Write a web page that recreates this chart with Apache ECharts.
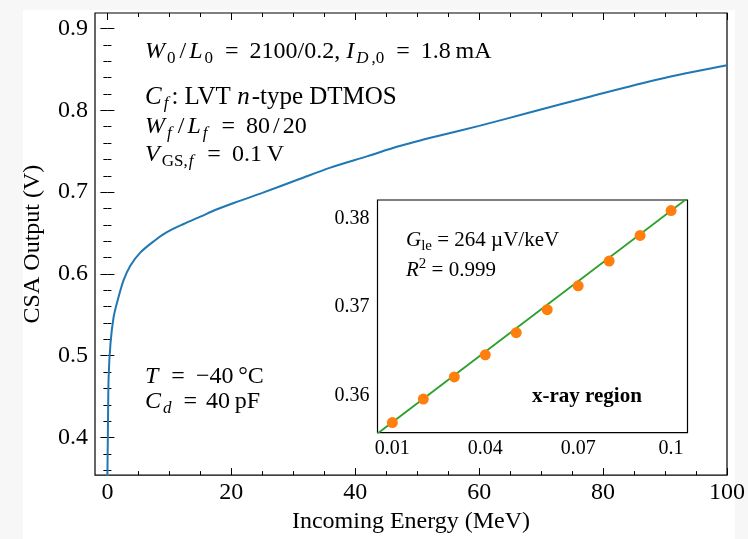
<!DOCTYPE html>
<html>
<head>
<meta charset="utf-8">
<script src="https://cdn.jsdelivr.net/npm/echarts@6/dist/echarts.min.js"></script>
<style>
html,body{margin:0;padding:0;background:#f7f7f7;}
#c{width:748px;height:539px;}
</style>
</head>
<body>
<div id="c"></div>
<script>
// ---- Main curve: CSA output vs incoming energy ----
const energyMeV = [0, 0.1, 0.2, 0.5, 1.0, 1.6, 2.6, 3.7, 5.3, 7.5, 9.6, 12.3, 15.0, 17.7, 20.5, 25, 31, 36, 42, 47, 53, 60, 68, 78, 89, 100];
const csaOutputV = [0.35, 0.42, 0.474, 0.515, 0.547, 0.566, 0.592, 0.610, 0.626, 0.640, 0.651, 0.661, 0.670, 0.679, 0.687, 0.699, 0.716, 0.730, 0.744, 0.756, 0.768, 0.781, 0.797, 0.817, 0.838, 0.855];

// ---- Inset: x-ray region points and linear fit ----
const xrayEnergyMeV = [0.01, 0.02, 0.03, 0.04, 0.05, 0.06, 0.07, 0.08, 0.09, 0.1];
const xrayOutputV = [0.35695, 0.3596, 0.3621, 0.3646, 0.3671, 0.3697, 0.3724, 0.3752, 0.3781, 0.3809];
const fitEnergyMeV = [0.0052, 0.1053];
const fitOutputV = [0.3557, 0.3823];

// ---- Tick values ----
const mainXTicks = [0, 20, 40, 60, 80, 100];
const mainXMinor = [5, 10, 15, 25, 30, 35, 45, 50, 55, 65, 70, 75, 85, 90, 95];
const mainYTicks = [0.4, 0.5, 0.6, 0.7, 0.8, 0.9];
const mainYMinor = [0.36, 0.38, 0.42, 0.44, 0.46, 0.48, 0.52, 0.54, 0.56, 0.58, 0.62, 0.64, 0.66, 0.68, 0.72, 0.74, 0.76, 0.78, 0.82, 0.84, 0.86, 0.88];
const insetXTicks = [0.01, 0.04, 0.07, 0.1];
const insetXMinor = [0.0175, 0.025, 0.0325, 0.0475, 0.055, 0.0625, 0.0775, 0.085, 0.0925];
const insetYTicks = [0.36, 0.37, 0.38];
const insetYMinor = [0.358, 0.362, 0.364, 0.366, 0.368, 0.372, 0.374, 0.376, 0.378];

const FONT = 'Liberation Serif';
const chart = echarts.init(document.getElementById('c'), null, {renderer: 'canvas'});

function tickAxis(grid, pos, min, max, vals, len, opts) {
  return Object.assign({
    type: 'value', gridIndex: grid, position: pos, min: min, max: max,
    splitLine: {show: false},
    axisLine: {show: false},
    axisTick: {show: true, inside: true, length: len, customValues: vals, lineStyle: {color: '#000', width: 1}},
    axisLabel: {show: false, customValues: vals}
  }, opts || {});
}

const MX = [-2, 100], MY = [0.354, 0.919];
const IX = [0.0052, 0.1053], IY = [0.3558, 0.3821];

const xAxes = [
  tickAxis(0, 'bottom', MX[0], MX[1], mainXTicks, 7, {
    axisLabel: {show: true, customValues: mainXTicks, margin: 6, fontFamily: FONT, fontSize: 24, color: '#000'},
    name: 'Incoming Energy (MeV)', nameLocation: 'middle', nameGap: 34,
    nameTextStyle: {fontFamily: FONT, fontSize: 24, color: '#000'}
  }),
  tickAxis(0, 'bottom', MX[0], MX[1], mainXMinor, 4),
  tickAxis(0, 'top', MX[0], MX[1], mainXTicks, 7),
  tickAxis(0, 'top', MX[0], MX[1], mainXMinor, 4),
  tickAxis(1, 'bottom', IX[0], IX[1], insetXTicks, 6, {
    axisLabel: {show: true, customValues: insetXTicks, margin: 6, fontFamily: FONT, fontSize: 20, color: '#000'}
  }),
  tickAxis(1, 'bottom', IX[0], IX[1], insetXMinor, 3.5),
  tickAxis(1, 'top', IX[0], IX[1], insetXTicks, 6),
  tickAxis(1, 'top', IX[0], IX[1], insetXMinor, 3.5)
];
const yAxes = [
  tickAxis(0, 'left', MY[0], MY[1], mainYTicks, 7, {
    axisLabel: {show: true, customValues: mainYTicks, margin: 7, fontFamily: FONT, fontSize: 24, color: '#000'},
    name: 'CSA Output (V)', nameLocation: 'middle', nameGap: 50, nameRotate: 90,
    nameTextStyle: {fontFamily: FONT, fontSize: 24, color: '#000'}
  }),
  tickAxis(0, 'left', MY[0], MY[1], mainYMinor, 4),
  tickAxis(0, 'right', MY[0], MY[1], mainYTicks, 7),
  tickAxis(0, 'right', MY[0], MY[1], mainYMinor, 4),
  tickAxis(1, 'left', IY[0], IY[1], insetYTicks, 6, {
    axisLabel: {show: true, customValues: insetYTicks, margin: 8, fontFamily: FONT, fontSize: 20, color: '#000'}
  }),
  tickAxis(1, 'left', IY[0], IY[1], insetYMinor, 3.5),
  tickAxis(1, 'right', IY[0], IY[1], insetYTicks, 6),
  tickAxis(1, 'right', IY[0], IY[1], insetYMinor, 3.5)
];

function mk(size, extra) {
  return Object.assign({fontFamily: FONT, fontSize: size, color: '#000', lineHeight: size + 6, verticalAlign: 'middle'}, extra || {});
}
const richMain = {
  n: mk(24),
  n25: mk(25),
  i: mk(24, {fontStyle: 'italic', padding: [0, 2, 0, 0]}),
  i25: mk(25, {fontStyle: 'italic', padding: [0, 2, 0, 0]}),
  sl: mk(24, {padding: [0, 3, 0, 3]}),
  eq: mk(24, {padding: [0, 5, 0, 5]}),
  eqs: mk(24, {padding: [0, 3, 0, 3]}),
  sub: mk(17, {lineHeight: 17, verticalAlign: 'bottom', padding: [0, 1, 0, 0]}),
  subi: mk(17, {lineHeight: 17, verticalAlign: 'bottom', fontStyle: 'italic', padding: [0, 3, 0, 0]})
};
const richInset = {
  n: mk(21),
  i: mk(21, {fontStyle: 'italic'}),
  sub: mk(15, {lineHeight: 15, verticalAlign: 'bottom'}),
  sup: mk(15, {lineHeight: 15, verticalAlign: 'top'}),
  b: mk(21, {fontWeight: 'bold'})
};

function label(text, left, centerY, rich, lh) {
  return {
    text: text, left: left, top: centerY - lh / 2, padding: 0, itemGap: 0,
    textStyle: {rich: rich, fontFamily: FONT, fontSize: 22, color: '#000', fontWeight: 'normal'}
  };
}

const titles = [
  label('{i|W}{sub|0}{sl|/}{i|L}{sub|0}{eq| = }{n|2100/0.2, }{i|I}{subi|D}{sub|,0}{eq| = }{n|1.8\u2009mA}', 145, 52, richMain, 30),
  label('{i25|C}{subi|f}{n25|: LVT }{i25|n}{n25|-type DTMOS}', 145, 97, richMain, 31),
  label('{i|W}{subi|f}{sl|/}{i|L}{subi|f}{eq| = }{n|80}{sl|/}{n|20}', 145, 127, richMain, 30),
  label('{i|V}{sub|GS,}{subi|f}{eq| = }{n|0.1\u2009V}', 145, 155, richMain, 30),
  label('{i|T}{eq| = }{n|\u221240\u2009°C}', 145, 377, richMain, 30),
  label('{i|C}{subi|d}{eqs| = }{n|40\u2009pF}', 145, 402, richMain, 30),
  label('{i|G}{sub|le}{n| = 264 µV/keV}', 406, 240, richInset, 27),
  label('{i|R}{sup|2}{n| = 0.999}', 406, 270, richInset, 27),
  label('{b|x-ray region}', 532, 397, richInset, 27)
];

chart.setOption({
  backgroundColor: 'transparent',
  animation: false,
  graphic: [{
    type: 'rect', z: -100, silent: true,
    shape: {x: 23, y: 10, width: 712, height: 529},
    style: {fill: '#ffffff'}
  }],
  title: titles,
  grid: [
    {left: 95, top: 13, width: 632, height: 465, show: true, backgroundColor: 'transparent', borderColor: '#000', borderWidth: 1.2, containLabel: false},
    {left: 377.5, top: 200, width: 310, height: 232.7, show: true, backgroundColor: '#fff', borderColor: '#000', borderWidth: 1.2, containLabel: false, z: 5}
  ],
  xAxis: xAxes,
  yAxis: yAxes,
  series: [
    {
      type: 'line', xAxisIndex: 0, yAxisIndex: 0, showSymbol: false, symbol: 'none',
      smooth: 0.3, clip: true,
      lineStyle: {color: '#1f77b4', width: 2},
      data: energyMeV.map((e, k) => [e, csaOutputV[k]])
    },
    {
      type: 'line', xAxisIndex: 4, yAxisIndex: 4, symbol: 'none', clip: true, z: 6,
      lineStyle: {color: '#2ca02c', width: 1.8},
      data: fitEnergyMeV.map((e, k) => [e, fitOutputV[k]])
    },
    {
      type: 'scatter', xAxisIndex: 4, yAxisIndex: 4, symbol: 'circle', symbolSize: 11, z: 7,
      itemStyle: {color: '#ff7f0e', opacity: 1},
      data: xrayEnergyMeV.map((e, k) => [e, xrayOutputV[k]])
    }
  ]
});
</script>
</body>
</html>
